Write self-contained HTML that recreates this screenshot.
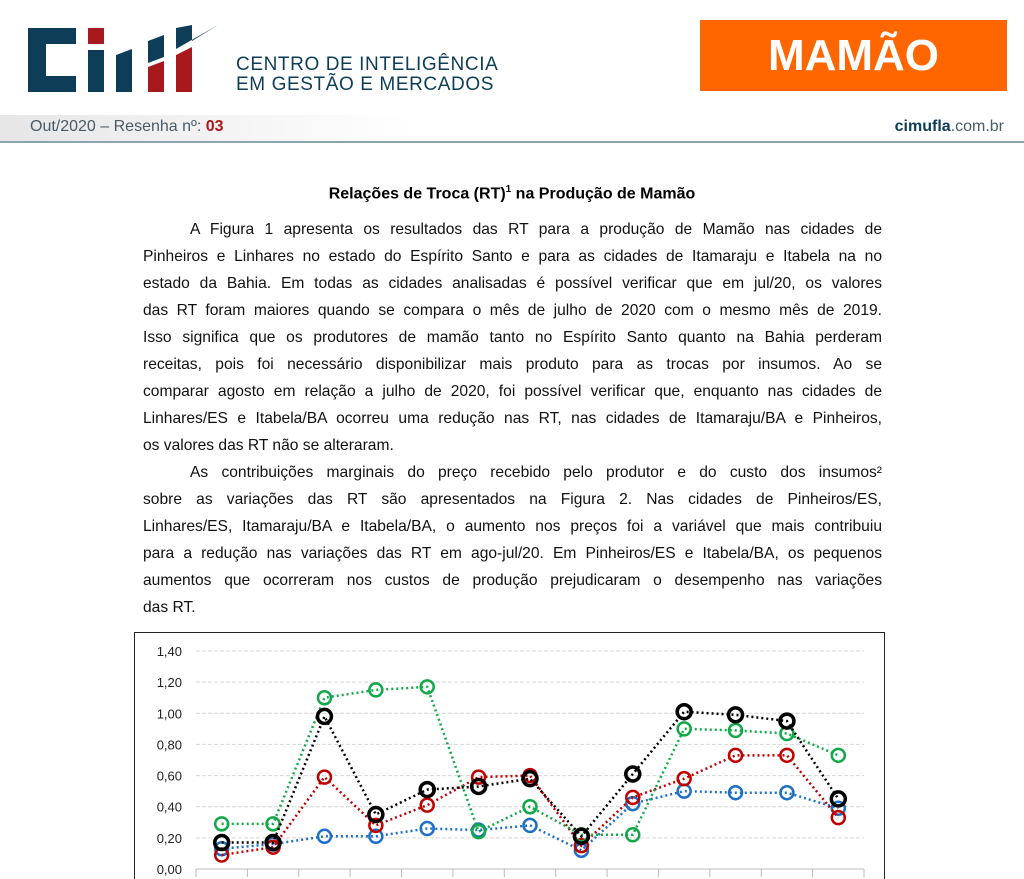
<!DOCTYPE html>
<html><head><meta charset="utf-8">
<style>
body{margin:0;width:1024px;height:879px;overflow:hidden;background:#fff;font-family:"Liberation Sans",sans-serif;position:relative}
.abs{position:absolute}
.ln{position:absolute;left:143px;width:739px;white-space:nowrap;text-align:justify;text-align-last:justify;font-size:15.6px;color:#111;overflow:hidden;height:24px;line-height:24px}
.last{text-align-last:left}
</style></head><body>
<div class="abs" style="left:28px;top:25px;width:195px;height:68px">
 <svg width="195" height="68" viewBox="0 0 195 68">
  <path d="M0 3h48v16h-30v32h30v16h-48z" fill="#0e3d57"/>
  <rect x="60" y="3" width="16" height="16" fill="#a8191e"/>
  <rect x="60" y="25" width="16" height="42" fill="#0e3d57"/>
  <polygon points="88,67 88,30 104,24 104,67" fill="#0e3d57"/>
  <polygon points="120,67 120,42 136,36 136,67" fill="#a8191e"/>
  <polygon points="120,38 120,16 136,10 136,32" fill="#0e3d57"/>
  <polygon points="148,67 148,30 164,22 164,67" fill="#a8191e"/>
  <polygon points="148,24 148,3 164,0 164,16 190,0" fill="#0e3d57"/>
 </svg>
</div>
<div class="abs" style="left:236px;top:55px;color:#0e3d57;font-size:19px;line-height:20px;letter-spacing:0.6px">CENTRO DE INTELIGÊNCIA<br>EM GESTÃO E MERCADOS</div>
<div class="abs" style="left:700px;top:20px;width:307px;height:71px;background:#ff6600;color:#fff;font-weight:bold;font-size:44px;line-height:71px;text-align:center">MAMÃO</div>
<div class="abs" style="left:0;top:115px;width:1024px;height:26px;background:linear-gradient(90deg,#e6e6e6,#fff 40%);border-bottom:2px solid #8ea3ad"></div>
<div class="abs" style="left:30px;top:118px;font-size:16px;color:#4a5a66">Out/2020 – Resenha nº: <b style="color:#a8191e">03</b></div>
<div class="abs" style="right:20px;top:118px;font-size:16px;color:#4a5a66"><b style="color:#0e3d57">cimufla</b>.com.br</div>
<div class="abs" style="left:0;width:1024px;top:184px;text-align:center;font-weight:bold;font-size:16px">Relações de Troca (RT)<sup style="font-size:10px">1</sup> na Produção de Mamão</div>
<div>
<div class="ln" style="top:218px;left:190px;width:692px">A Figura 1 apresenta os resultados das RT para a produção de Mamão nas cidades de</div>
<div class="ln" style="top:245px">Pinheiros e Linhares no estado do Espírito Santo e para as cidades de Itamaraju e Itabela na no</div>
<div class="ln" style="top:272px">estado da Bahia. Em todas as cidades analisadas é possível verificar que em jul/20, os valores</div>
<div class="ln" style="top:299px">das RT foram maiores quando se compara o mês de julho de 2020 com o mesmo mês de 2019.</div>
<div class="ln" style="top:326px">Isso significa que os produtores de mamão tanto no Espírito Santo quanto na Bahia perderam</div>
<div class="ln" style="top:353px">receitas, pois foi necessário disponibilizar mais produto para as trocas por insumos. Ao se</div>
<div class="ln" style="top:380px">comparar agosto em relação a julho de 2020, foi possível verificar que, enquanto nas cidades de</div>
<div class="ln" style="top:407px">Linhares/ES e Itabela/BA ocorreu uma redução nas RT, nas cidades de Itamaraju/BA e Pinheiros,</div>
<div class="ln last" style="top:434px">os valores das RT não se alteraram.</div>
</div>
<div>
<div class="ln" style="top:461px;left:190px;width:692px">As contribuições marginais do preço recebido pelo produtor e do custo dos insumos²</div>
<div class="ln" style="top:488px">sobre as variações das RT são apresentados na Figura 2. Nas cidades de Pinheiros/ES,</div>
<div class="ln" style="top:515px">Linhares/ES, Itamaraju/BA e Itabela/BA, o aumento nos preços foi a variável que mais contribuiu</div>
<div class="ln" style="top:542px">para a redução nas variações das RT em ago-jul/20. Em Pinheiros/ES e Itabela/BA, os pequenos</div>
<div class="ln" style="top:569px">aumentos que ocorreram nos custos de produção prejudicaram o desempenho nas variações</div>
<div class="ln last" style="top:596px">das RT.</div>
</div>
<svg class="abs" id="chart" style="left:0;top:0" width="1024" height="879"></svg>
<script>
const categories=["1","2","3","4","5","6","7","8","9","10","11","12","13"];
const yTicks=[0,0.2,0.4,0.6,0.8,1.0,1.2,1.4];
const blue=[0.13,0.16,0.21,0.21,0.26,0.25,0.28,0.12,0.42,0.50,0.49,0.49,0.39];
const red=[0.09,0.14,0.59,0.28,0.41,0.59,0.60,0.15,0.46,0.58,0.73,0.73,0.33];
const green=[0.29,0.29,1.10,1.15,1.17,0.24,0.40,0.22,0.22,0.90,0.89,0.87,0.73];
const black=[0.17,0.17,0.98,0.35,0.51,0.53,0.58,0.21,0.61,1.01,0.99,0.95,0.45];
const NS="http://www.w3.org/2000/svg";
const svg=document.getElementById('chart');
const x0=196,x1=864,y0=869,y1=651;
const bw=(x1-x0)/categories.length;
const X=i=>x0+bw*(i+0.5);
const Y=v=>y0-(v/1.4)*(y0-y1);
function mk(t,a){const e=document.createElementNS(NS,t);for(const k in a)e.setAttribute(k,a[k]);svg.appendChild(e);return e;}
const frame=mk('rect',{x:134.5,y:632.5,width:750,height:260,fill:'none',stroke:'#222','stroke-width':1});


yTicks.forEach(v=>{
 const g=mk('line',{x1:x0,x2:x1,y1:Y(v),y2:Y(v),stroke:v===0?'#bbb':'#d6d6d6','stroke-dasharray':v===0?'':'4 2'});
 
 
 const t=mk('text',{x:182,y:Y(v)+5,'text-anchor':'end','font-size':13,fill:'#222','font-family':'Liberation Sans'});
 t.textContent=v.toFixed(2).replace('.',',');
 
 
});
for(let i=0;i<=categories.length;i++){
 const tk=mk('line',{x1:x0+bw*i,x2:x0+bw*i,y1:y0,y2:y0+8,stroke:'#bbb'});
 
 
}
function series(arr,col,name,r,sw){
 const pts=arr.map((v,i)=>X(i)+','+Y(v)).join(' ');
 const l=mk('polyline',{points:pts,fill:'none',stroke:col,'stroke-width':2.5,'stroke-dasharray':'2 3'});
 
 
 arr.forEach((v,i)=>{
  const c=mk('circle',{cx:X(i),cy:Y(v),r:r,fill:'none',stroke:col,'stroke-width':sw});
  
  
 });
}
series(blue,'#1f6fc5','blue-series',6.5,2.5);
series(red,'#c00000','red-series',6.5,2.5);
series(green,'#12a84a','green-series',6.5,2.5);
series(black,'#000','black-series',7,3.5);
</script>
</body></html>
